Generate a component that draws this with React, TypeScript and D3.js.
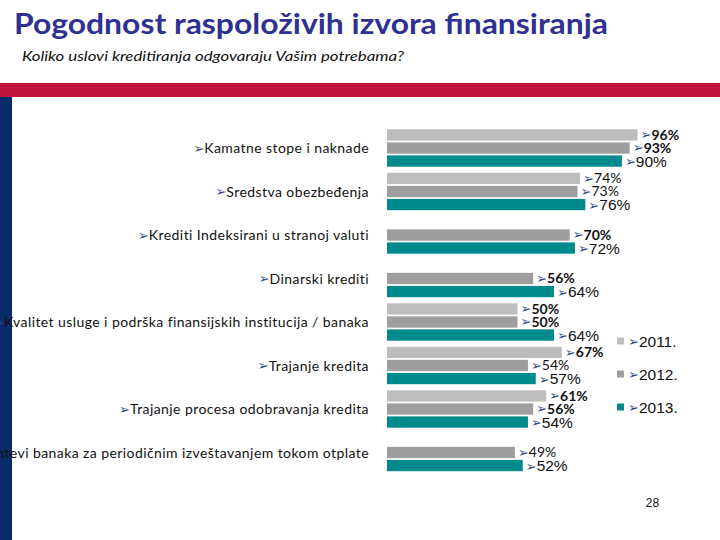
import React from "react";
import * as d3 from "d3";

const categories = [
  "Kamatne stope i naknade",
  "Sredstva obezbeđenja",
  "Krediti Indeksirani u stranoj valuti",
  "Dinarski krediti",
  "Kvalitet usluge i podrška finansijskih institucija / banaka",
  "Trajanje kredita",
  "Trajanje procesa odobravanja kredita",
  "Zahtevi banaka za periodičnim izveštavanjem tokom otplate",
];
const years = ["2011.", "2012.", "2013."];
const values2011: (number | null)[] = [96, 74, null, null, 50, 67, 61, null];
const values2012: (number | null)[] = [93, 73, 70, 56, 50, 54, 56, 49];
const values2013: (number | null)[] = [90, 76, 72, 64, 64, 57, 54, 52];
const series = [values2011, values2012, values2013];
const colors = ["#bdbdbd", "#9e9e9e", "#008a8c"];
// labels drawn in regular weight (others bold) for 2011/2012
const regularLabels = new Set(["0-1", "1-1", "1-5", "1-7"]);

const ARROW = "\u27A2";
const ARROW_COLOR = "#2f4a7d";

export default function App() {
  const W = 720, H = 540;
  const x = d3.scaleLinear().domain([0, 100]).range([387, 648]);
  const y = d3
    .scaleBand<string>()
    .domain(categories)
    .range([126.25, 474.25])
    .paddingInner(0.14)
    .paddingOuter(0.07);
  const yi = d3
    .scaleBand<string>()
    .domain(years)
    .range([0, y.bandwidth()])
    .paddingInner(0.134)
    .paddingOuter(0);
  const bh = yi.bandwidth();

  return (
    <svg width={W} height={H} style={{ position: "absolute", left: 0, top: 0, background: "#fff" }}>
      <rect x={0} y={0} width={W} height={H} fill="#fff" />
      {/* header */}
      <text x={14} y={34} fontFamily="Lato, sans-serif" fontWeight={700} fontSize={29} fill="#2e3190" textLength={594} lengthAdjust="spacingAndGlyphs">
        Pogodnost raspoloživih izvora finansiranja
      </text>
      <text x={22} y={61} fontFamily="Lato, sans-serif" fontStyle="italic" fontSize={13.5} fill="#111" textLength={382} lengthAdjust="spacingAndGlyphs">
        Koliko uslovi kreditiranja odgovaraju Vašim potrebama?
      </text>
      <rect x={0} y={83} width={W} height={14} fill="#c0153d" />
      <rect x={0} y={97} width={12} height={H - 97} fill="#0a2b6b" />

      {/* category labels */}
      {categories.map((c) => {
        const cy = (y(c) as number) + y.bandwidth() / 2;
        return (
          <text key={c} x={369} y={cy + 5} textAnchor="end" fontFamily="Lato, sans-serif" fontSize={14} letterSpacing={0.42} fill="#111">
            <tspan fontFamily="DejaVu Sans" fontSize={13} letterSpacing={0} fill={ARROW_COLOR} dy={-0.5}>{ARROW}</tspan>
            <tspan dy={0.5}>{c}</tspan>
          </text>
        );
      })}

      {/* bars */}
      {series.map((vals, si) =>
        vals.map((v, ci) => {
          if (v == null) return null;
          const top = (y(categories[ci]) as number) + (yi(years[si]) as number);
          return (
            <rect key={`b${si}-${ci}`} x={x(0)} y={top} width={x(v) - x(0)} height={bh} fill={colors[si]} />
          );
        })
      )}

      {/* value labels */}
      {series.map((vals, si) =>
        vals.map((v, ci) => {
          if (v == null) return null;
          const cy = (y(categories[ci]) as number) + (yi(years[si]) as number) + bh / 2;
          const big = si === 2;
          const bold = !big && !regularLabels.has(`${si}-${ci}`);
          return (
            <text
              key={`l${si}-${ci}`}
              x={x(v) + 3}
              y={cy + (big ? 5.5 : 4.6)}
              fontFamily={big ? "Liberation Sans, Arial, sans-serif" : "Lato, sans-serif"}
              fontSize={big ? 15.5 : 14}
              fontWeight={bold ? 700 : 400}
              fill="#111"
            >
              <tspan fontFamily="DejaVu Sans" fontSize={13} fontWeight={400} fill={ARROW_COLOR} dy={-0.5}>{ARROW}</tspan>
              <tspan dy={0.5}>{`${v}%`}</tspan>
            </text>
          );
        })
      )}

      {/* legend */}
      {years.map((yr, i) => {
        const cy = 341 + i * 33;
        return (
          <g key={yr}>
            <rect x={617} y={cy - 3.5} width={7} height={7} fill={colors[i]} />
            <text x={628} y={cy + 5.5} fontFamily="Liberation Sans, Arial, sans-serif" fontSize={15.5} fill="#111">
              <tspan fontFamily="DejaVu Sans" fontSize={13} fill={ARROW_COLOR} dy={-0.5}>{ARROW}</tspan>
              <tspan dy={0.5}>{yr}</tspan>
            </text>
          </g>
        );
      })}

      <text x={652.5} y={507} textAnchor="middle" fontFamily="Liberation Sans, Arial, sans-serif" fontSize={12} fill="#111">
        28
      </text>
    </svg>
  );
}
